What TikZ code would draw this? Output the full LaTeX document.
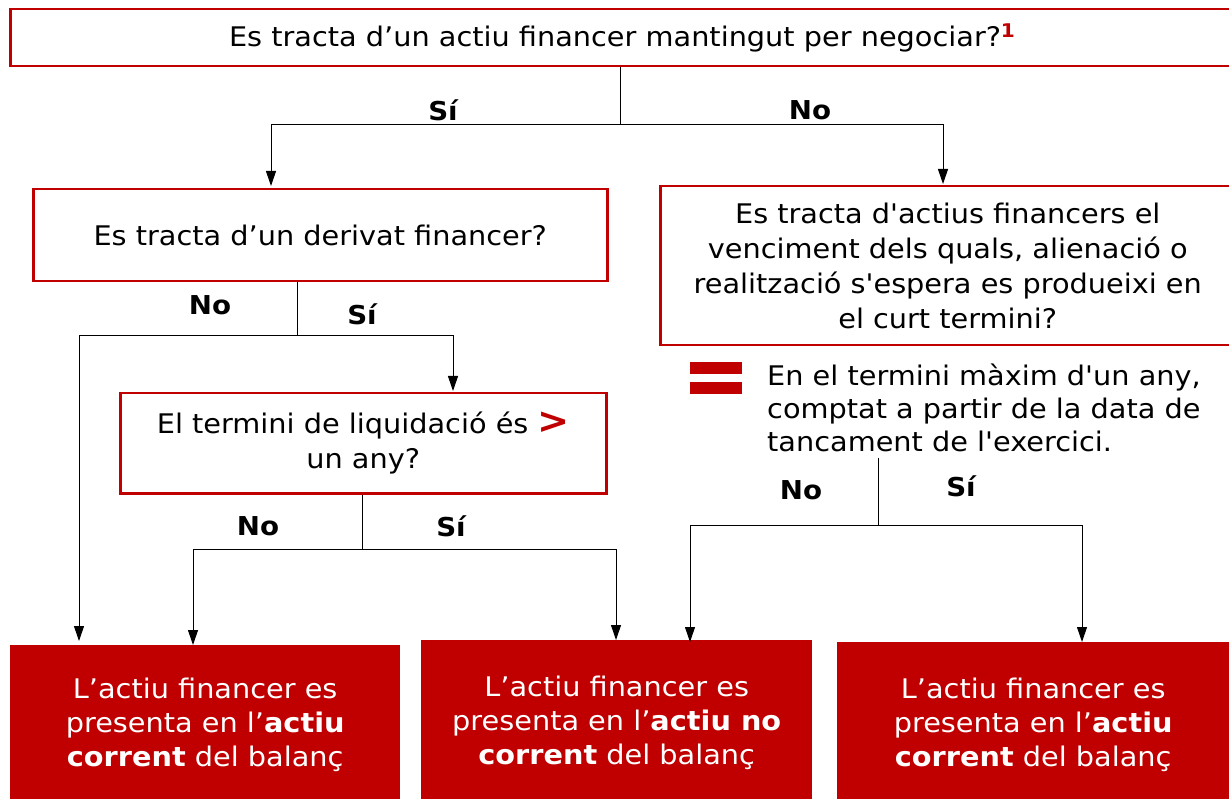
\documentclass[tikz,border=0pt]{standalone}
\usepackage{fontspec}
\setmainfont{DejaVu Sans}[Ligatures=TeXOff, FakeStretch=1.065]
\usetikzlibrary{arrows.meta,calc}
\definecolor{cRed}{HTML}{C00000}
\begin{document}
\begin{tikzpicture}[x=1pt,y=-1pt,
  q/.style={draw=cRed, line width=2.5pt, fill=white, align=center, inner sep=0pt,
            anchor=north west, font=\fontsize{27}{35}\selectfont},
  res/.style={fill=cRed, text=white, align=center, inner sep=0pt,
            anchor=north west, font=\fontsize{27}{34}\selectfont},
  lbl/.style={font=\bfseries\fontsize{26}{30}\selectfont},
  line/.style={draw=black, line width=1pt},
  arr/.style={line, -{Triangle[length=15pt,width=10pt]}},
  eqbar/.style={fill=cRed, inner sep=0pt, minimum width=52pt, minimum height=12pt, anchor=north west}]
\useasboundingbox (0,0) rectangle (1229,799);

% question boxes
\node[q, minimum width=1224pt, minimum height=57pt] (top) at (9,8)
  {Es tracta d’un actiu financer mantingut per negociar?\textsuperscript{\color{cRed}\bfseries 1}};
\node[q, minimum width=574pt, minimum height=92pt] (box2) at (32,188)
  {Es tracta d’un derivat financer?};
\node[q, minimum width=575pt, minimum height=159pt] (box3) at (659,185)
  {Es tracta d'actius financers el\\venciment dels quals, alienació o\\realització s'espera es produeixi en\\el curt termini?};
\node[q, minimum width=486pt, minimum height=100pt] (box4) at (119,392)
  {El termini de liquidació és {\color{cRed}\bfseries\fontsize{36}{35}\selectfont >}\\un any?};

% note with equals sign
\node[eqbar] (eq1) at (690,362) {};
\node[eqbar] (eq2) at (690,382) {};
\node[anchor=west, align=left, inner sep=0pt, font=\fontsize{27}{33}\selectfont] (note) at (767,408)
  {En el termini màxim d'un any,\\comptat a partir de la data de\\tancament de l'exercici.};

% result boxes
\node[res, minimum width=390pt, minimum height=160pt] (resA) at (10,645)
  {L’actiu financer es\\presenta en l’\textbf{actiu}\\\textbf{corrent} del balanç};
\node[res, minimum width=391pt, minimum height=165pt] (resB) at (421,640)
  {L’actiu financer es\\presenta en l’\textbf{actiu no}\\\textbf{corrent} del balanç};
\node[res, minimum width=392pt, minimum height=165pt] (resC) at (837,642)
  {L’actiu financer es\\presenta en l’\textbf{actiu}\\\textbf{corrent} del balanç};

% junctions and arrow ends
\coordinate (j1) at (620,125);
\coordinate (a1) at (271,186);
\coordinate (a2) at (943,184);
\coordinate (j2) at (297,336);
\coordinate (a3) at (79,641);
\coordinate (a4) at (453,391);
\coordinate (j3) at (362,549);
\coordinate (a5) at (193,645);
\coordinate (a6) at (616,640);
\coordinate (s4) at (878,458);
\coordinate (j4) at (878,525);
\coordinate (a7) at (690,642);
\coordinate (a8) at (1082,642);

% connectors
\draw[line] (top.south -| j1) -- (j1);
\draw[arr] (j1) -| (a1);
\draw[arr] (j1) -| (a2);
\draw[line] (box2.south -| j2) -- (j2);
\draw[arr] (j2) -| (a3);
\draw[arr] (j2) -| (a4);
\draw[line] (box4.south -| j3) -- (j3);
\draw[arr] (j3) -| (a5);
\draw[arr] (j3) -| (a6);
\draw[line] (s4) -- (j4);
\draw[arr] (j4) -| (a7);
\draw[arr] (j4) -| (a8);

% labels
\node[lbl] (l1) at (443,110) {Sí};
\node[lbl] (l2) at (810,110) {No};
\node[lbl] (l3) at (210,305) {No};
\node[lbl] (l4) at (362,314) {Sí};
\node[lbl] (l5) at (258,526) {No};
\node[lbl] (l6) at (451,526) {Sí};
\node[lbl] (l7) at (801,490) {No};
\node[lbl] (l8) at (961,486) {Sí};
\end{tikzpicture}
\end{document}
